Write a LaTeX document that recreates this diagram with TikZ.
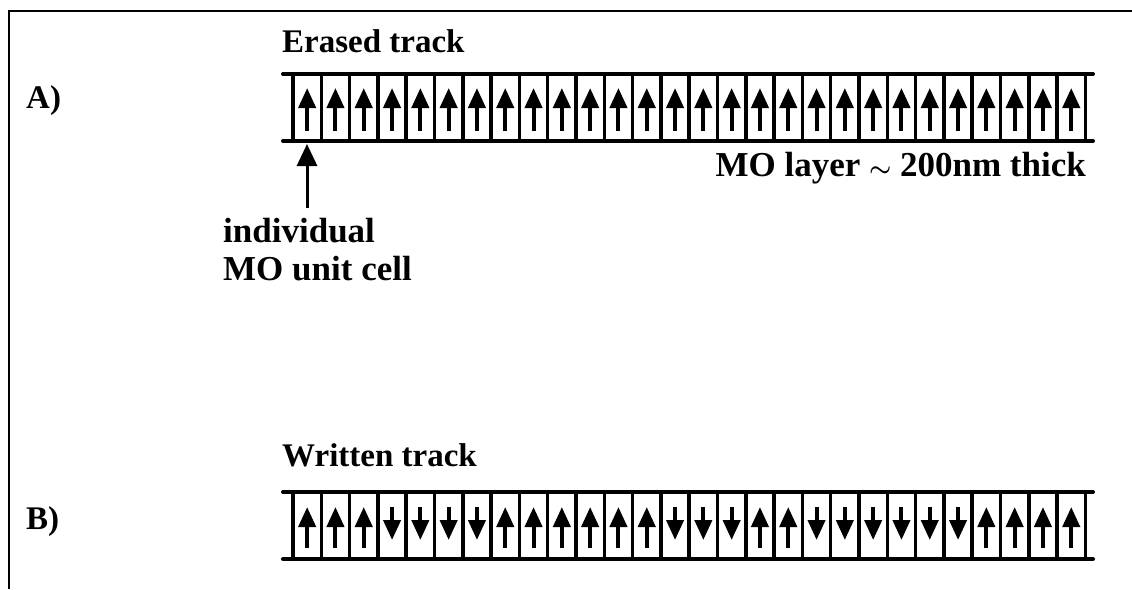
\documentclass[tikz,border=0pt]{standalone}
\usepackage{fontspec}
\setmainfont{Liberation Serif}
\usetikzlibrary{arrows.meta}
\begin{document}
\begin{tikzpicture}[x=1pt,y=-1pt,
  lbl/.style={font=\fontsize{33}{38}\selectfont\bfseries, inner sep=0pt},
  biglbl/.style={font=\fontsize{35}{40}\selectfont\bfseries, inner sep=0pt},
  rail/.style={line width=4pt, line cap=round},
  bar/.style={line width=3.5pt},
  spin/.style={line width=4pt, -{Triangle[width=17pt,length=20pt]}},
  ptr/.style={line width=3pt, -{Triangle[width=20pt,length=22pt]}},
  frame/.style={line width=1.5pt}]
\useasboundingbox[fill=white] (0,0) rectangle (1132,589);
% frame
\draw[frame] (9,589) -- (9,11) -- (1132,11);
% labels
\node[lbl, anchor=base west] (la) at (26,108) {A)};
\node[lbl, anchor=base west] (lb) at (26,529) {B)};
\node[lbl, anchor=base west] (erased) at (282,52) {Erased track};
\node[lbl, anchor=base west] (written) at (282,466) {Written track};
\node[biglbl, anchor=base east] (molayer) at (1086,176) {MO layer {\boldmath$\sim$} 200nm thick};
\node[biglbl, anchor=base west] (unitA) at (223,242) {individual};
\node[biglbl, anchor=base west] (unitB) at (223,280) {MO unit cell};
% track A
\draw[rail] (283,74) -- (1093,74);
\draw[rail] (283,141) -- (1093,141);
\foreach \k in {0,...,28} \draw[bar] ({293+28.3*\k},74) -- ({293+28.3*\k},141);
\foreach \k in {0,...,27} \draw[spin] ({307.15+28.3*\k},131) -- ({307.15+28.3*\k},88);
% pointer
\coordinate (ptrfrom) at (307,208);
\coordinate (ptrto) at (307,144);
\draw[ptr] (ptrfrom) -- (ptrto);
% track B
\draw[rail] (283,492) -- (1093,492);
\draw[rail] (283,559) -- (1093,559);
\foreach \k in {0,...,28} \draw[bar] ({293+28.3*\k},492) -- ({293+28.3*\k},559);
\foreach \s [count=\i from 0] in {1,1,1,0,0,0,0,1,1,1,1,1,1,0,0,0,1,1,0,0,0,0,0,0,1,1,1,1}{
  \ifnum\s=1
    \draw[spin] ({307.15+28.3*\i},548) -- ({307.15+28.3*\i},507);
  \else
    \draw[spin] ({307.15+28.3*\i},507) -- ({307.15+28.3*\i},540);
  \fi
}
\end{tikzpicture}
\end{document}
